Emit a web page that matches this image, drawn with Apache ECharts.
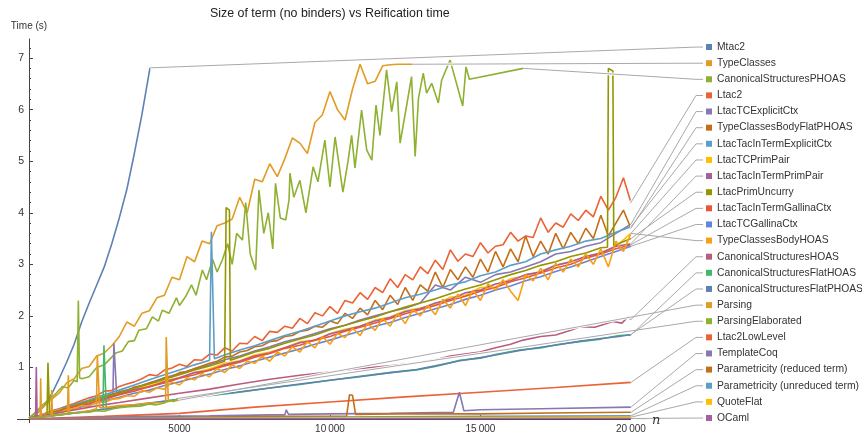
<!DOCTYPE html>
<html>
<head>
<meta charset="utf-8">
<script src="https://cdn.jsdelivr.net/npm/echarts@6/dist/echarts.min.js"></script>
<style>
  html, body { margin: 0; padding: 0; background: #fff; }
  #chart { width: 862px; height: 434px; }
</style>
</head>
<body>
<div id="chart"></div>
<script>
// sample positions (n) shared by the denser series
var N250 = [], N500 = [];
for (var i = 0; i <= 80; i++) N250.push(i * 250);
for (var j = 0; j <= 40; j++) N500.push(j * 500);

var X_MAJOR = [5000, 10000, 15000, 20000];
var X_LABELS = ['5000', '10\u2009000', '15\u2009000', '20\u2009000'];
var Y_MAJOR = [1, 2, 3, 4, 5, 6, 7];

var mtac2 = [[0,0.02],[250,0.1],[500,0.25],[750,0.48],[1000,0.78],[1250,1.1],[1500,1.45],[1750,1.88],[2000,2.25],[2250,2.6],[2500,2.95],[2750,3.4],[3000,3.9],[3250,4.45],[3500,5.15],[3750,5.9],[4020,6.81]];

var typeClasses = [0.02,0.12,0.25,0.38,0.5,0.7,0.78,0.98,1.02,1.22, 1.28,1.42,1.6,1.88,1.8,2.05,2.1,2.35,2.4,2.75,
  2.7,3.15,3.05,3.45,3.4,3.75,3.8,3.88,4.3,4.0, 4.65,4.6,4.95,4.7,5.05,5.45,5.35,5.15,5.75,5.9,
  6.35,6.0,5.8,6.4,6.88,6.5,6.55,6.85,6.87,6.88, 6.88,6.88];

var csPHOAS = [[0,0.02],[250,0.15],[500,0.3],[664,0.37],[900,0.5],[1107,0.63],[1300,0.6],[1500,0.75],[1600,0.72],[1620,0.75],[1640,2.3],[1680,0.8],[1750,0.78],
  [2000,0.82],[2250,1.0],[2500,1.05],[2750,1.2],[2880,1.28],[3100,1.32],[3300,1.5],[3500,1.52],[3650,1.72],[3900,1.75],[4100,1.98],[4300,1.9],[4430,2.11],
  [4650,2.05],[4900,2.35],[5000,2.2],[5200,2.37],[5400,2.6],[5550,2.4],[5760,2.89],[5900,2.7],[6100,3.1],[6250,2.85],[6420,3.08],[6600,3.4],[6750,3.0],
  [6900,3.6],[7090,3.47],[7200,4.2],[7350,3.2],[7530,2.89],[7640,4.44],[7800,3.6],[7950,4.0],[8100,3.3],[8190,4.57],[8350,3.9],[8530,3.86],[8640,4.25],
  [8670,4.77],[8800,4.3],[9000,4.63],[9200,4.0],[9440,4.89],[9600,4.6],[9830,5.41],[10000,4.5],[10170,5.47],[10430,4.4],[10600,5.0],[10720,5.5],[10830,4.87],
  [11050,5.99],[11220,5.22],[11390,5.02],[11530,6.09],[11660,5.5],[11880,6.77],[12050,5.96],[12220,6.54],[12330,5.35],[12550,6.09],[12710,6.64],[12830,5.09],
  [12940,6.22],[13100,6.71],[13210,6.32],[13380,6.51],[13600,6.13],[13710,6.57],[13990,6.96],[14410,6.07],[14520,6.83],[14630,6.59],[16420,6.8]];

var ltac2 = [0.01,0.05,0.1,0.16,0.2,0.25,0.3,0.36,0.41,0.45, 0.54,0.55,0.63,0.68,0.72,0.78,0.86,0.84,0.95,0.99,
  1.06,1.02,1.15,1.14,1.26,1.24,1.38,1.32,1.47,1.46, 1.6,1.52,1.7,1.68,1.8,1.76,1.95,1.85,2.06,2.0,
  2.18,2.05,2.3,2.25,2.45,2.32,2.55,2.45,2.72,2.55, 2.8,2.7,2.95,2.82,3.08,2.9,3.28,3.06,3.2,3.15,
  3.42,3.22,3.35,3.38,3.62,3.45,3.55,3.52,3.9,3.62, 3.8,3.72,3.98,3.85,4.05,3.92,4.32,4.05,4.3,4.68,4.2];

var ltacTCExplicitCtx = [0.01,0.08,0.17,0.26,0.34,0.43,0.53,0.6,0.7,0.8, 0.88,0.97,1.05,1.15,1.22,1.32,1.4,1.5,1.57,1.66,
  1.75,1.82,1.92,2.0,2.08,2.15,2.25,2.6,2.5,2.75, 2.65,2.8,2.85,2.95,3.05,3.2,3.25,3.35,3.42,3.6, 3.78];
var ltacTCExplicitCtxSpikes = [[2790,0.49],[2820,1.47],[2880,1.45],[2910,0.5]];

var tcBodyFlatPHOAS = [0.01,0.05,0.09,0.13,0.18,0.22,0.26,0.31,0.35,0.38, 0.44,0.48,0.52,0.55,0.62,0.65,0.7,0.73,0.8,0.82,
  0.9,0.92,0.98,1.03,1.08,1.12,1.2,1.22,1.3,1.33, 1.4,1.42,1.5,1.52,1.6,1.62,1.7,1.72,1.8,1.78,
  1.9,1.85,2.05,1.95,2.15,2.02,2.3,2.12,2.4,2.22, 2.55,2.3,2.6,2.48,2.85,2.55,2.9,2.7,2.95,2.75,
  3.1,2.85,3.25,2.95,3.3,3.05,3.55,3.15,3.45,3.2, 3.6,3.3,3.62,3.4,3.7,3.5,3.95,3.55,3.8,4.05,3.7];

var ltacTacExplicitCtx = [0.01,0.09,0.19,0.28,0.37,0.47,0.56,0.66,0.76,0.86, 0.95,1.05,1.14,1.24,1.34,1.42,1.52,1.62,1.7,1.8,
  1.9,2.0,2.08,2.15,2.25,2.35,2.42,2.5,2.6,2.66, 2.78,2.85,2.98,3.05,3.2,3.28,3.35,3.45,3.5,3.62, 3.73];
var ltacTacExplicitCtxSpikes = [[6020,1.15],[6060,3.63],[6120,3.6],[6160,1.17]];

var ltacTCPrimPair = [0.01,0.09,0.18,0.24,0.33,0.42,0.49,0.58,0.64,0.74, 0.8,0.9,0.97,1.08,1.13,1.24,1.3,1.38,1.5,1.52,
  1.66,1.74,1.8,1.92,1.98,2.1,2.15,2.22,2.36,2.4, 2.55,2.56,2.72,2.78,2.86,2.98,3.05,3.15,3.22,3.35, 3.6];

var ltacTacPrimPair = [0.01,0.07,0.16,0.25,0.3,0.4,0.48,0.57,0.62,0.72, 0.8,0.9,0.94,1.05,1.12,1.22,1.28,1.38,1.48,1.53,
  1.65,1.72,1.8,1.9,1.97,2.08,2.14,2.25,2.32,2.45, 2.5,2.62,2.68,2.8,2.85,2.98,3.05,3.15,3.22,3.35, 3.4];
var ltacTacPrimPairSpikes = [[220,0.03],[243,1.01],[270,0.04]];

var ltacPrimUncurry = [0.01,0.08,0.17,0.26,0.34,0.43,0.5,0.6,0.68,0.77, 0.86,0.95,1.03,1.12,1.2,1.3,1.37,1.47,1.55,1.63,
  1.73,1.82,1.9,1.98,2.08,2.17,2.25,2.33,2.43,2.52, 2.6,2.7,2.8,2.88,2.98,3.05,3.15,3.22,3.32,3.38, 3.5];
var ltacPrimUncurrySpikes = [[600,0.1],[630,1.09],[680,0.12],[6520,1.13],[6550,4.1],[6660,4.05],[6690,1.14],
  [19220,3.33],[19250,6.8],[19400,6.75],[19430,3.36]];

var ltacTacGallinaCtx = [0.01,0.07,0.15,0.24,0.3,0.38,0.47,0.54,0.63,0.7, 0.79,0.86,0.95,1.03,1.1,1.2,1.27,1.37,1.43,1.53,
  1.6,1.7,1.78,1.86,1.95,2.04,2.12,2.2,2.3,2.38, 2.48,2.55,2.66,2.74,2.83,2.93,3.0,3.12,3.2,3.3, 3.38];

var ltacTCGallinaCtx = [0.01,0.06,0.13,0.2,0.27,0.35,0.42,0.5,0.56,0.65, 0.72,0.8,0.87,0.96,1.03,1.12,1.2,1.28,1.36,1.45,
  1.53,1.62,1.7,1.8,1.87,1.97,2.05,2.14,2.22,2.32, 2.4,2.5,2.58,2.68,2.76,2.86,2.95,3.05,3.15,3.25, 3.35];

var tcBodyHOAS = [0.01,0.04,0.07,0.1,0.12,0.18,0.2,0.26,0.25,0.33, 0.32,0.38,0.4,0.45,0.44,0.55,0.52,0.6,0.58,0.72,
  0.66,0.8,0.76,0.88,0.82,0.98,0.9,1.05,0.98,1.12, 1.08,1.22,1.12,1.3,1.22,1.4,1.3,1.5,1.38,1.6,
  1.45,1.66,1.58,1.76,1.62,1.85,1.72,1.95,1.8,2.05, 1.85,2.12,2.0,2.2,2.02,2.32,2.15,2.42,2.2,2.5,
  2.3,2.62,2.5,2.7,2.48,2.3,2.8,2.68,2.92,2.7, 3.02,2.85,3.1,2.95,3.2,3.0,3.3,2.95,3.45,3.25,3.6];

var csHOAS = [[0,0.02],[1000,0.12],[2200,0.25],[3000,0.32],[4000,0.41],[5000,0.5],[6000,0.58],[7000,0.68],[8000,0.77],[9000,0.85],[10000,0.91],
  [11000,0.98],[12000,1.03],[12760,1.08],[13500,1.15],[14000,1.22],[14980,1.3],[15500,1.38],[16000,1.45],[16420,1.53],[17000,1.6],[17500,1.63],
  [18000,1.72],[18300,1.79],[18800,1.78],[19400,1.89],[19700,1.86],[19900,1.98],[20000,1.93]];

var csFlatHOAS = [[0,0.01],[1000,0.08],[2000,0.15],[2460,0.19],[2490,1.43],[2540,1.42],[2570,0.2],[3000,0.23],[4000,0.3],[5000,0.38],[6000,0.45],
  [7000,0.52],[8000,0.6],[9000,0.67],[10000,0.75],[11000,0.83],[12000,0.9],[12880,0.95],[13500,1.02],[14320,1.14],[15000,1.18],[15500,1.25],
  [16310,1.34],[17000,1.38],[17600,1.45],[18300,1.5],[19000,1.55],[19600,1.62],[20000,1.63]];

var csFlatPHOAS = [[0,0.01],[1000,0.08],[2000,0.15],[3000,0.23],[4000,0.31],[5000,0.38],[6000,0.46],[7000,0.53],[8000,0.6],[9000,0.68],
  [10000,0.75],[11000,0.82],[12000,0.9],[12880,0.96],[13500,1.03],[14320,1.13],[15000,1.19],[15500,1.24],[16310,1.33],[17000,1.39],
  [17600,1.44],[18300,1.51],[19000,1.56],[19600,1.6],[20000,1.64]];

var parsing = [[0,0.01],[300,0.03],[370,0.03],[388,0.79],[410,0.04],[500,0.05],[730,0.06],[753,0.56],[780,0.07],[1000,0.08],[1280,0.1],[1307,0.85],
  [1330,0.11],[1500,0.12],[2000,0.16],[2240,0.2],[2270,1.24],[2320,1.23],[2350,0.22],[2500,0.22],[3000,0.26],[3500,0.28],[4000,0.31],[4540,0.32],
  [4560,1.59],[4610,1.57],[4630,0.34],[4950,0.36]];

var parsingElaborated = [[0,0.01],[500,0.05],[1000,0.08],[1500,0.12],[2000,0.13],[2215,0.16],[2500,0.15],[2800,0.2],[3000,0.22],[3320,0.24],
  [3700,0.25],[4000,0.29],[4200,0.27],[4430,0.3],[4700,0.36],[4800,0.34],[4950,0.4]];

var ltac2LowLevel = [[0,0],[2500,0.05],[5000,0.11],[7500,0.23],[10000,0.33],[12500,0.43],[15000,0.52],[17500,0.61],[20000,0.71]];

var templateCoq = [[0,0],[2000,0.03],[4000,0.05],[6000,0.06],[8000,0.08],[8500,0.08],[8550,0.18],[8620,0.09],[10000,0.1],[12000,0.11],
  [14100,0.13],[14300,0.52],[14450,0.16],[15000,0.18],[17000,0.2],[20000,0.23]];

var paramReduced = [[0,0],[5000,0.03],[8000,0.05],[10550,0.05],[10650,0.47],[10750,0.46],[10850,0.09],[12000,0.1],[15000,0.1],[18000,0.12],[20000,0.13]];
var paramUnreduced = [[0,0],[5000,0.02],[10000,0.04],[15000,0.05],[20000,0.06]];
var quoteFlat = [[0,0],[10000,0.02],[20000,0.035]];
var ocaml = [[0,0],[20000,0.01]];

var NAMES = ['Mtac2','TypeClasses','CanonicalStructuresPHOAS','Ltac2','LtacTCExplicitCtx','TypeClassesBodyFlatPHOAS',
  'LtacTacInTermExplicitCtx','LtacTCPrimPair','LtacTacInTermPrimPair','LtacPrimUncurry','LtacTacInTermGallinaCtx',
  'LtacTCGallinaCtx','TypeClassesBodyHOAS','CanonicalStructuresHOAS','CanonicalStructuresFlatHOAS',
  'CanonicalStructuresFlatPHOAS','Parsing','ParsingElaborated','Ltac2LowLevel','TemplateCoq',
  'Parametricity (reduced term)','Parametricity (unreduced term)','QuoteFlat','OCaml'];

var COLORS = ['#5E81B5','#E19C24','#8FB131','#EB6235','#8778B3','#C56E1A','#5D9EC7','#FFBF00','#A5609D','#929600',
  '#E95536','#6685D9','#F89F13','#BC5B80','#47B66D','#5E81B5','#E19C24','#8FB131','#EB6235','#8778B3',
  '#C56E1A','#5D9EC7','#FFBF00','#A5609D'];

function zip(xs, ys) {
  return ys.map(function (y, k) { return [xs[k], y]; });
}
function withSpikes(pairs, spikes) {
  return pairs.concat(spikes || []).sort(function (a, b) { return a[0] - b[0]; });
}

var DATA = [
  mtac2,
  zip(N250, typeClasses),
  csPHOAS,
  zip(N250, ltac2),
  withSpikes(zip(N500, ltacTCExplicitCtx), ltacTCExplicitCtxSpikes),
  zip(N250, tcBodyFlatPHOAS),
  withSpikes(zip(N500, ltacTacExplicitCtx), ltacTacExplicitCtxSpikes),
  zip(N500, ltacTCPrimPair),
  withSpikes(zip(N500, ltacTacPrimPair), ltacTacPrimPairSpikes),
  withSpikes(zip(N500, ltacPrimUncurry), ltacPrimUncurrySpikes),
  zip(N500, ltacTacGallinaCtx),
  zip(N500, ltacTCGallinaCtx),
  zip(N250, tcBodyHOAS),
  csHOAS, csFlatHOAS, csFlatPHOAS, parsing, parsingElaborated,
  ltac2LowLevel, templateCoq, paramReduced, paramUnreduced, quoteFlat, ocaml
];

// minor tick positions
var X_MINOR = [], Y_MINOR = [];
for (var m = 1000; m <= 20000; m += 1000) if (m % 5000) X_MINOR.push(m);
for (var q = 1; q <= 36; q++) if (q % 5) Y_MINOR.push(+(q * 0.2).toFixed(1));

var FONT = 'Liberation Sans, Arial, sans-serif';
var AXIS_COLOR = '#444';
var LEG_TOP = 39, LEG_ROW = 16.13, LEG_LEFT = 706;

var myChart = echarts.init(document.getElementById('chart'));

var option = {
  animation: false,
  backgroundColor: '#fff',
  textStyle: { fontFamily: FONT },
  title: {
    text: 'Size of term (no binders) vs Reification time',
    left: 210, top: 8, padding: 0,
    textStyle: { fontSize: 12.4, fontWeight: 'normal', color: '#222', fontFamily: FONT }
  },
  grid: { left: 29, top: 39, width: 617, height: 380, containLabel: false },
  legend: {
    orient: 'vertical', left: LEG_LEFT, top: LEG_TOP, padding: 0,
    icon: 'rect', itemWidth: 6, itemHeight: 6, itemGap: LEG_ROW - 16,
    selectedMode: false,
    textStyle: { fontSize: 10.3, color: '#333', lineHeight: 16, fontFamily: FONT },
    data: NAMES
  },
  xAxis: [{
    type: 'value', min: 0, max: 20500, position: 'bottom',
    splitLine: { show: false },
    axisLine: { show: true, onZero: false, lineStyle: { color: AXIS_COLOR, width: 1 } },
    axisTick: { show: true, inside: true, length: 4, customValues: X_MAJOR, lineStyle: { color: AXIS_COLOR } },
    axisLabel: {
      show: true, customValues: X_MAJOR, margin: 5, fontSize: 10, color: '#333', fontFamily: FONT,
      formatter: function (v) { return X_LABELS[X_MAJOR.indexOf(v)]; }
    }
  }, {
    type: 'value', min: 0, max: 20500, position: 'bottom',
    splitLine: { show: false },
    axisLine: { show: false, onZero: false },
    axisTick: { show: true, inside: true, length: 2, customValues: X_MINOR, lineStyle: { color: AXIS_COLOR } },
    axisLabel: { show: false }
  }],
  yAxis: [{
    type: 'value', min: 0, max: 7.37, position: 'left',
    splitLine: { show: false },
    axisLine: { show: true, onZero: false, lineStyle: { color: AXIS_COLOR, width: 1 } },
    axisTick: { show: true, inside: true, length: 4, customValues: Y_MAJOR, lineStyle: { color: AXIS_COLOR } },
    axisLabel: { show: true, customValues: Y_MAJOR, margin: 5, fontSize: 10.5, color: '#333', fontFamily: FONT },
    name: 'Time (s)', nameLocation: 'end', nameGap: 8,
    nameTextStyle: { fontSize: 10, color: '#333', align: 'center', fontFamily: FONT }
  }, {
    type: 'value', min: 0, max: 7.37, position: 'left',
    splitLine: { show: false },
    axisLine: { show: false, onZero: false },
    axisTick: { show: true, inside: true, length: 2, customValues: Y_MINOR, lineStyle: { color: AXIS_COLOR } },
    axisLabel: { show: false }
  }],
  series: NAMES.map(function (name, k) {
    return {
      name: name, type: 'line', data: DATA[k],
      color: COLORS[k], showSymbol: false, symbol: 'none',
      lineStyle: { width: 1.6, color: COLORS[k] },
      emphasis: { disabled: true }
    };
  })
};

myChart.setOption(option);

// callout leaders: from each series' last point to its legend row
var halos = [], leaders = [];
DATA.forEach(function (d, k) {
  var p = myChart.convertToPixel({ gridIndex: 0 }, d[d.length - 1]);
  var y = LEG_TOP + LEG_ROW / 2 + k * LEG_ROW;
  var pts = [p, [LEG_LEFT - 10, y], [LEG_LEFT - 3, y]];
  halos.push({ type: 'polyline', silent: true, z: 50, shape: { points: pts }, style: { stroke: '#fff', lineWidth: 3, fill: null } });
  leaders.push({ type: 'polyline', silent: true, z: 51, shape: { points: pts }, style: { stroke: '#a9a9a9', lineWidth: 1, fill: null } });
});

// the axes in the original cross at the origin and run a little past it
var o = myChart.convertToPixel({ gridIndex: 0 }, [0, 0]);
var xEnd = myChart.convertToPixel({ gridIndex: 0 }, [20500, 0]);
var extras = [
  { type: 'line', silent: true, z: 5, shape: { x1: o[0] - 12, y1: o[1] + 0.5, x2: o[0], y2: o[1] + 0.5 }, style: { stroke: AXIS_COLOR, lineWidth: 1 } },
  { type: 'line', silent: true, z: 5, shape: { x1: o[0] + 0.5, y1: o[1], x2: o[0] + 0.5, y2: o[1] + 4 }, style: { stroke: AXIS_COLOR, lineWidth: 1 } },
  { type: 'text', silent: true, z: 60, x: xEnd[0] + 6, y: xEnd[1] + 2,
    style: { text: 'n', fontStyle: 'italic', fontSize: 13, fontFamily: 'DejaVu Serif, serif', fill: '#333', verticalAlign: 'middle', align: 'left' } }
];
myChart.setOption({ graphic: halos.concat(leaders, extras) });
</script>
</body>
</html>
